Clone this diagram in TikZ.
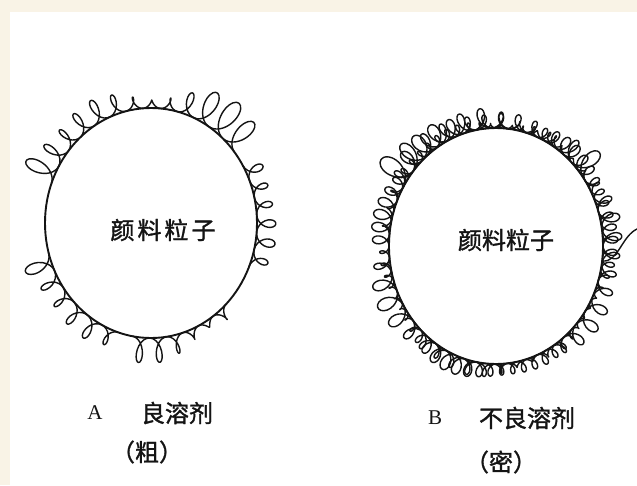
\documentclass[tikz,border=0pt]{standalone}
\usepackage{fontspec}
\setmainfont{Liberation Serif}
\newfontfamily\cjk{Noto Sans CJK SC}[FakeBold=1.3]
\usetikzlibrary{shapes.geometric}

\definecolor{paper}{HTML}{F9F3E6}
\definecolor{ink}{HTML}{141414}

% parameters of one adsorbed chain: loops of a trochoid running round an ellipse
\pgfkeys{/chain/.cd,
  cx/.store in=\chcx, cy/.store in=\chcy,
  rx/.store in=\chrx, ry/.store in=\chry,
  loops/.store in=\chN, h/.store in=\chh, w/.store in=\chw,
  ph/.store in=\chph, from/.store in=\chfrom, to/.store in=\chto,
  samples/.store in=\chsamples}

% the plot variable runs from 0 to the number of loops
\tikzset{
  declare function={
    chth(\s)=\chfrom+(\chto-(\chfrom))*((\s)/\chN);
    chk(\s)=1+0.45*sin(2.7*chth(\s)+\chph)+0.3*cos(6.3*chth(\s)+2*\chph);
    chphi(\s)=360*frac(\s);
    chr(\s)=\chh*chk(\s)*(1-cos(chphi(\s)));
    cht(\s)=\chw*chk(\s)*sin(chphi(\s));
    chx(\s)=\chcx+(\chrx+chr(\s))*cos(chth(\s))-cht(\s)*sin(chth(\s));
    chy(\s)=\chcy-(\chry+chr(\s))*sin(chth(\s))-cht(\s)*cos(chth(\s));
  },
  particle/.style={ellipse, draw=ink, line width=1.9pt, inner sep=0pt},
  chainline/.style={draw=ink, line width=1.4pt, line join=round, line cap=round},
  cjklabel/.style={inner sep=0pt, text=ink, font=\cjk\fontsize{24}{26}\selectfont},
  latinlabel/.style={inner sep=0pt, text=ink, font=\fontsize{21}{24}\selectfont},
}

\newcommand\polychain[1]{%
  \begingroup
  \pgfkeys{/chain/.cd,#1}%
  \draw[chainline] plot[domain=0:\chN, samples=\chsamples, smooth, variable=\t]
    ({chx(\t)},{chy(\t)});
  \endgroup}

\begin{document}
\begin{tikzpicture}[x=1pt,y=-1pt]
  % page and panel
  \fill[paper] (0,0) rectangle (637,485);
  \fill[white] (10,12) rectangle (637,485);
  \useasboundingbox (0,0) rectangle (637,485);

  % ---- A: good solvent, extended chains ----
  \node[particle, minimum width=212pt, minimum height=230pt] (pa) at (151,223) {};
  \polychain{cx=151,cy=223,rx=106,ry=115,loops=13,h=12,w=8,ph=0,from=38,to=160,samples=260}
  \polychain{cx=151,cy=223,rx=106,ry=115,loops=6,h=7,w=6,ph=40,from=-22,to=30,samples=120}
  \polychain{cx=151,cy=223,rx=106,ry=115,loops=6,h=12,w=7,ph=90,from=-100,to=-45,samples=120}
  \polychain{cx=151,cy=223,rx=106,ry=115,loops=6,h=11,w=8,ph=200,from=-165,to=-108,samples=120}
  \node[cjklabel] (ta) at (163,230) {颜\hspace{3pt}料\hspace{3pt}粒\hspace{3pt}子};

  % ---- B: poor solvent, collapsed chains ----
  \node[particle, minimum width=214pt, minimum height=236pt] (pb) at (496,246) {};
  \polychain{cx=496,cy=246,rx=107,ry=118,loops=64,h=5.5,w=4.5,ph=10,from=-180,to=180,samples=1150}
  \polychain{cx=496,cy=246,rx=107,ry=118,loops=42,h=7,w=6,ph=130,from=-175,to=175,samples=800}
  \polychain{cx=496,cy=246,rx=107,ry=118,loops=12,h=10,w=8,ph=60,from=35,to=150,samples=220}
  \coordinate (tailend) at (637,229);
  \draw[chainline] (pb.-8) .. controls (618,262) and (622,236) .. (tailend);
  \node[cjklabel] (tb) at (506,240) {颜料粒子};

  % ---- captions ----
  \node[latinlabel] (la) at (95,413) {A};
  \node[cjklabel] (sa) at (177,413) {良溶剂};
  \node[cjklabel] (ca) at (147,452) {（粗）};
  \node[latinlabel] (lb) at (435,418) {B};
  \node[cjklabel] (sb) at (527,418) {不良溶剂};
  \node[cjklabel] (cb) at (501,462) {（密）};
\end{tikzpicture}
\end{document}
